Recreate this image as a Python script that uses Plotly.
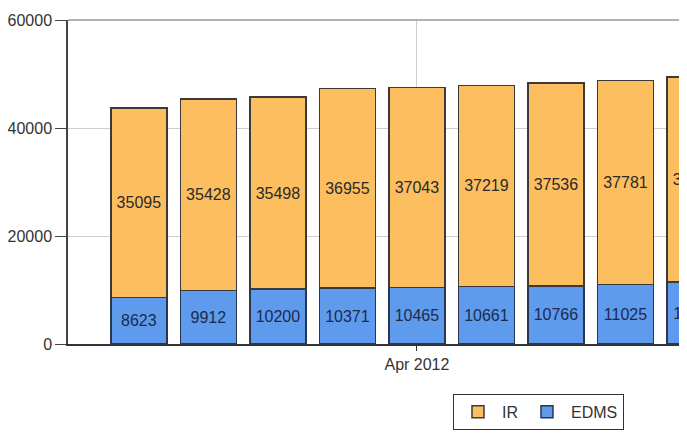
import plotly.graph_objects as go

months = ["Dec 2011", "Jan 2012", "Feb 2012", "Mar 2012", "Apr 2012",
          "May 2012", "Jun 2012", "Jul 2012", "Aug 2012"]
edms = [8623, 9912, 10200, 10371, 10465, 10661, 10766, 11025, 11450]
ir = [35095, 35428, 35498, 36955, 37043, 37219, 37536, 37781, 37990]
x_ticks = ["Apr 2012"]
y_ticks = [0, 20000, 40000, 60000]

FONT = "Liberation Sans, Arial, sans-serif"

fig = go.Figure()
fig.add_trace(go.Bar(
    x=months, y=edms, name="EDMS",
    marker=dict(color="#5E9BEC", line=dict(color="#2a3550", width=1.5)),
    text=[str(v) for v in edms], textposition="inside", insidetextanchor="middle",
    textfont=dict(family=FONT, size=16, color="#1c2a4e"),
    cliponaxis=True,
))
fig.add_trace(go.Bar(
    x=months, y=ir, name="IR",
    marker=dict(color="#FDBE60", line=dict(color="#3a3a3a", width=1.5)),
    text=[str(v) for v in ir], textposition="inside", insidetextanchor="middle",
    textfont=dict(family=FONT, size=16, color="#2a2a2a"),
    cliponaxis=True,
))

fig.update_layout(
    barmode="stack",
    bargap=0.19,
    width=687, height=433,
    margin=dict(l=60, r=0, t=12, b=97, autoexpand=False),
    paper_bgcolor="white", plot_bgcolor="white",
    font=dict(family=FONT, size=15, color="#333333"),
    showlegend=True,
    legend=dict(
        orientation="h", x=0.614, y=-0.154, xanchor="left", yanchor="top",
        bordercolor="#333333", borderwidth=1, bgcolor="white",
        font=dict(family=FONT, size=16, color="#333333"),
        traceorder="reversed", itemwidth=38,
    ),
    xaxis=dict(
        type="category", categoryorder="array", categoryarray=months,
        range=[-1.02, 8.0], automargin=False,
        tickmode="array", tickvals=x_ticks, ticktext=x_ticks,
        showgrid=True, gridcolor="#cfcfcf", gridwidth=1,
        showline=True, linecolor="#333333", linewidth=2,
        ticks="outside", ticklen=5, tickcolor="#333333",
        tickfont=dict(family=FONT, size=16, color="#333333"),
        zeroline=False,
    ),
    yaxis=dict(
        range=[0, 60000], automargin=False,
        tickmode="array", tickvals=y_ticks, ticktext=[str(v) for v in y_ticks],
        showgrid=True, gridcolor="#cfcfcf", gridwidth=1,
        showline=True, linecolor="#444444", linewidth=1.5,
        ticks="outside", ticklen=11, tickcolor="#444444",
        tickfont=dict(family=FONT, size=16, color="#333333"),
        zeroline=False,
    ),
)
fig.add_shape(type="line", xref="paper", yref="paper", x0=0, x1=1, y0=1, y1=1,
              line=dict(color="#999999", width=1.5))

fig.write_html("out.html")
